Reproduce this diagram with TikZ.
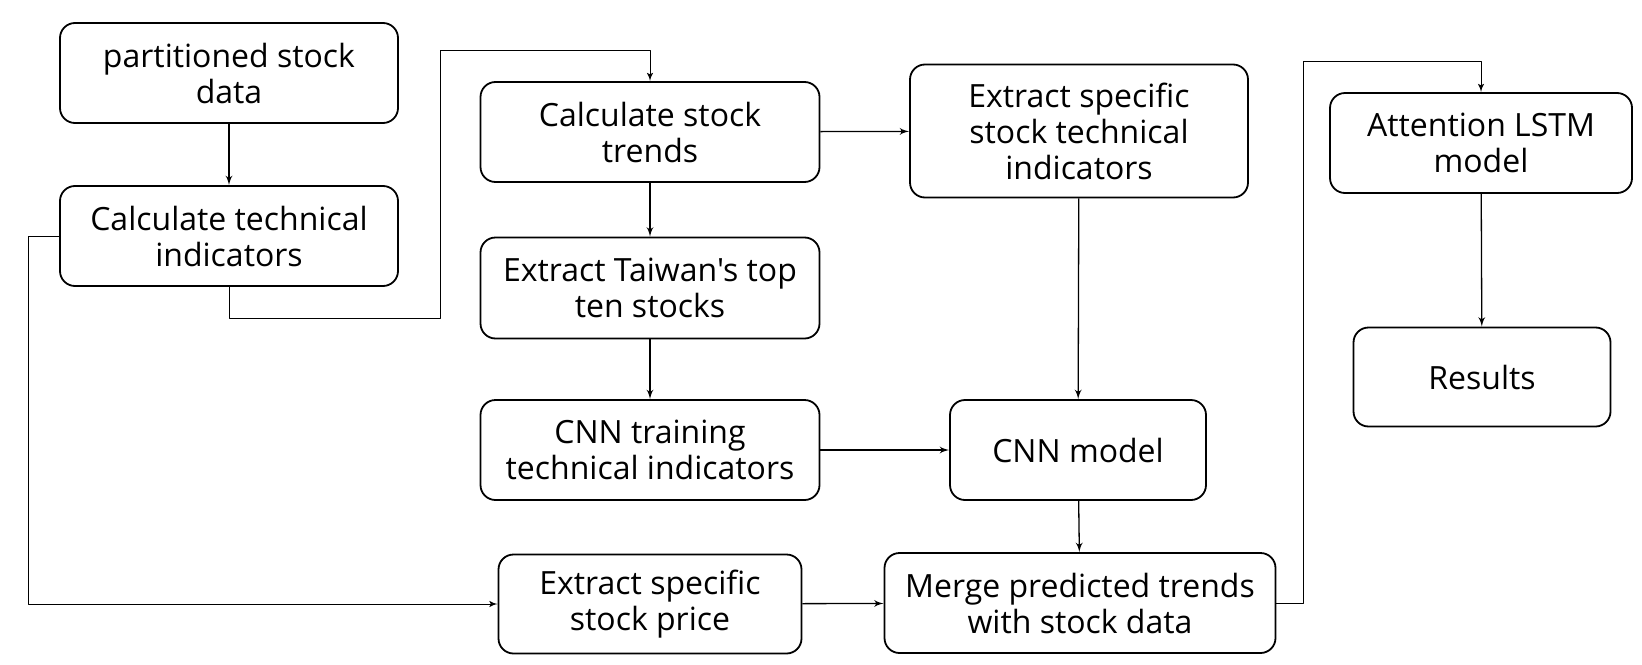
\documentclass[tikz,border=0pt]{standalone}
\usepackage{fontspec}
\newfontfamily\boxfont{Open Sans}
\usetikzlibrary{arrows}

\begin{document}
\begin{tikzpicture}[x=0.5pt,y=-0.5pt,>=latex',line join=round,
  stepbox/.style={draw=black,line width=0.9pt,rounded corners=7.5pt,align=center,
    inner sep=0pt,font=\boxfont\fontsize{16}{18}\selectfont},
  flow/.style={->,line width=0.65pt},
  wire/.style={->,line width=0.45pt}]
	\useasboundingbox (0,0) rectangle (1642,664);
	%%
	\node (part) at (229,73) [stepbox,minimum width=169pt,minimum height=50pt] {partitioned stock\\data};
	  \node (tech) at (229,236) [stepbox,minimum width=169pt,minimum height=50pt] {Calculate technical\\indicators};
	  \node (trend) at (650,132) [stepbox,minimum width=169.5pt,minimum height=50pt] {Calculate stock\\trends};
	  \node (top) at (650,288) [stepbox,minimum width=169.5pt,minimum height=50.5pt] {Extract Taiwan's top\\ten stocks};
	  \node (train) at (650,450) [stepbox,minimum width=169.5pt,minimum height=50pt] {CNN training\\technical indicators};
	  \node (price) at (650,604) [stepbox,minimum width=151.5pt,minimum height=49.5pt] {Extract specific\\stock price};
	  \node (spec) at (1079,131) [stepbox,minimum width=169pt,minimum height=66.5pt] {Extract specific\\stock technical\\indicators};
	  \node (cnn) at (1078,450) [stepbox,minimum width=128pt,minimum height=50pt] {CNN model};
	  \node (merge) at (1080,603) [stepbox,minimum width=195.5pt,minimum height=50pt] {Merge predicted trends\\with stock data};
	  \node (lstm) at (1481,143) [stepbox,minimum width=151pt,minimum height=50pt] {Attention LSTM\\model};
	  \node (res) at (1482,377) [stepbox,minimum width=128.5pt,minimum height=49.5pt] {Results};
	  \coordinate (k1) at (440,318);
	  \coordinate (k2) at (440,50);
	  \coordinate (k3) at (28,236);
	  \coordinate (k4) at (1303,61);
	
	  \draw [flow] (part) -- (tech);
	  \draw [wire] (tech.south) |- (k1) -- (k2) -| (trend.north);
	  \draw [wire] (tech.west) -- (k3) |- (price.west);
	
	  \draw [flow] (trend) -- (spec);
	  \draw [flow] (trend) -- (top);
	  \draw [flow] (top) -- (train);
	  \draw [flow] (train) -- (cnn);
	  \draw [flow] (spec) -- (cnn);
	  \draw [flow] (cnn) -- (merge);
	  \draw [flow] (price) -- (merge);
	
	  \draw [wire] (merge.east) -| (k4) -| (lstm.north);
	  \draw [flow] (lstm) -- (res);
	%
	\end{tikzpicture}
\end{document}
